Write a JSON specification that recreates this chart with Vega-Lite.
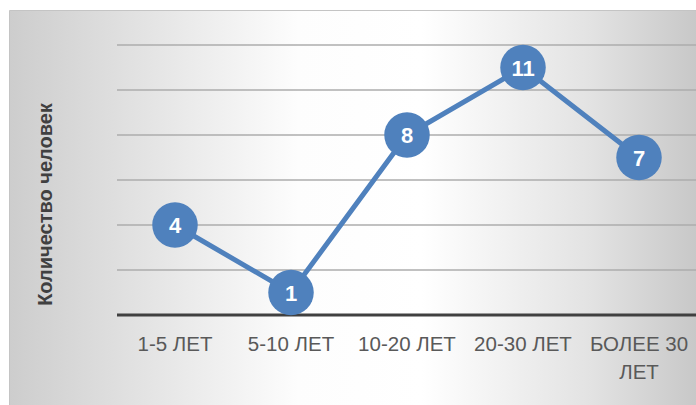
{
  "$schema": "https://vega.github.io/schema/vega-lite/v6.json",
  "width": 687,
  "height": 395,
  "autosize": "none",
  "padding": {"left": 9, "top": 10, "right": 0, "bottom": 0},
  "background": "#ffffff",
  "view": {
    "fill": {
      "gradient": "linear",
      "x1": 0, "y1": 0.5,
      "x2": 1, "y2": 0.5,
      "stops": [
        {"offset": 0, "color": "#cdcdcd"},
        {"offset": 0.15, "color": "#dedede"},
        {"offset": 0.42, "color": "#fdfdfd"},
        {"offset": 0.6, "color": "#ffffff"},
        {"offset": 0.85, "color": "#e2e2e2"},
        {"offset": 1, "color": "#c8c8c8"}
      ]
    },
    "stroke": "#c4c4c4",
    "strokeWidth": 1
  },
  "datasets": {
    "main": [
      {"category": "1-5 ЛЕТ", "value": 4},
      {"category": "5-10 ЛЕТ", "value": 1},
      {"category": "10-20 ЛЕТ", "value": 8},
      {"category": "20-30 ЛЕТ", "value": 11},
      {"category": "БОЛЕЕ 30 ЛЕТ", "value": 7}
    ],
    "grid": [{"v": 2}, {"v": 4}, {"v": 6}, {"v": 8}, {"v": 10}, {"v": 12}]
  },
  "config": {
    "font": "Liberation Sans"
  },
  "layer": [
    {
      "data": {"name": "grid"},
      "mark": {"type": "rule", "color": "#adadad", "strokeWidth": 1.5},
      "encoding": {
        "x": {"datum": "1-5 ЛЕТ", "type": "nominal", "bandPosition": 0},
        "x2": {"datum": "БОЛЕЕ 30 ЛЕТ", "bandPosition": 1},
        "y": {"field": "v", "type": "quantitative"}
      }
    },
    {
      "data": {"values": [{"v": 0}]},
      "mark": {"type": "rule", "color": "#404040", "strokeWidth": 3},
      "encoding": {
        "x": {"datum": "1-5 ЛЕТ", "type": "nominal", "bandPosition": 0},
        "x2": {"datum": "БОЛЕЕ 30 ЛЕТ", "bandPosition": 1},
        "y": {"field": "v", "type": "quantitative"}
      }
    },
    {
      "data": {"name": "main"},
      "layer": [
        {
          "mark": {"type": "line", "color": "#4f81bd", "strokeWidth": 5}
        },
        {
          "mark": {"type": "point", "filled": true, "size": 2070, "color": "#4f81bd", "opacity": 1}
        },
        {
          "mark": {"type": "text", "color": "#ffffff", "fontSize": 22, "fontWeight": "bold", "baseline": "middle", "dy": 1},
          "encoding": {"text": {"field": "value", "type": "quantitative"}}
        }
      ],
      "encoding": {
        "x": {
          "field": "category",
          "type": "nominal",
          "sort": null,
          "title": null,
          "axis": {
            "orient": "bottom",
            "offset": -90,
            "domain": false,
            "ticks": false,
            "grid": false,
            "labelAngle": 0,
            "labelAlign": "center",
            "labelFontSize": 20.5,
            "labelColor": "#595959",
            "labelPadding": 29,
            "labelLimit": 0,
            "labelLineHeight": 28,
            "labelExpr": "datum.value == 'БОЛЕЕ 30 ЛЕТ' ? ['БОЛЕЕ 30', 'ЛЕТ'] : datum.value"
          }
        },
        "y": {
          "field": "value",
          "type": "quantitative",
          "title": "Количество человек",
          "axis": {
            "labels": false,
            "ticks": false,
            "domain": false,
            "grid": false,
            "titleFontSize": 20,
            "titleFontWeight": "bold",
            "titleColor": "#404040",
            "titleX": 36,
            "titleY": 194,
            "titleAngle": -90,
            "titleAlign": "center",
            "titleBaseline": "middle"
          }
        }
      }
    }
  ],
  "resolve": {"scale": {"x": "shared", "y": "shared"}},
  "encoding": {
    "x": {
      "scale": {
        "domain": ["1-5 ЛЕТ", "5-10 ЛЕТ", "10-20 ЛЕТ", "20-30 ЛЕТ", "БОЛЕЕ 30 ЛЕТ"],
        "range": [108, 688],
        "paddingInner": 0,
        "paddingOuter": 0
      }
    },
    "y": {
      "scale": {"domain": [0, 12], "range": [305, 35], "nice": false, "zero": true}
    }
  }
}
